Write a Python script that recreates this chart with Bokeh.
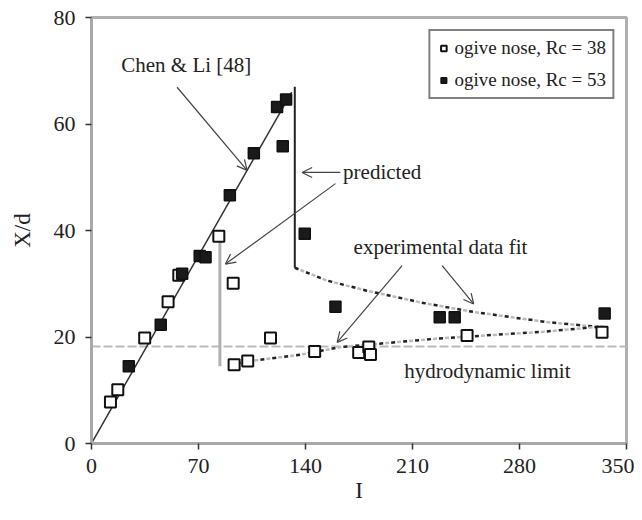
from bokeh.plotting import figure
from bokeh.models import Label, Arrow, OpenHead, FixedTicker, Legend, LegendItem, Range1d
from bokeh.embed import file_html
from bokeh.resources import INLINE

# Data: ogive nose, Rc = 38 (open squares)
rc38_x = [12.4, 17.2, 34.8, 50.1, 57.1, 83.3, 92.7, 93.3, 102.2, 117.1, 146.0, 174.8, 181.4, 182.5, 245.7, 334.0]
rc38_y = [7.8, 10.1, 19.8, 26.6, 31.6, 38.9, 30.1, 14.8, 15.5, 19.8, 17.3, 17.1, 18.1, 16.7, 20.3, 20.9]

# Data: ogive nose, Rc = 53 (filled squares)
rc53_x = [24.4, 45.3, 59.3, 70.8, 74.6, 90.5, 106.2, 121.4, 127.3, 125.1, 139.5, 159.6, 227.8, 237.6, 335.7]
rc53_y = [14.5, 22.3, 31.9, 35.2, 35.0, 46.6, 54.5, 63.2, 64.6, 55.8, 39.4, 25.7, 23.7, 23.7, 24.4]

# Chen & Li [48] line
chen_x = [0, 131]
chen_y = [0, 66]

# predicted (vertical segments)
pred53_x = [133, 133]
pred53_y = [33, 67]
pred38_x = [84, 84]
pred38_y = [14.5, 38]

# experimental data fits
fit53_x = [133, 154, 180, 217, 250, 298, 335]
fit53_y = [33, 30.6, 28.7, 26.4, 24.7, 22.8, 21.8]
fit38_x = [95, 104, 137, 163, 226, 296, 335]
fit38_y = [15.0, 15.5, 16.7, 18.1, 19.7, 21.0, 22.0]

# hydrodynamic limit
hydro_y = 18.2

x_ticks = [0, 70, 140, 210, 280, 350]
y_ticks = [0, 20, 40, 60, 80]

FONT = "Liberation Serif"

p = figure(width=634, height=512, output_backend="svg", toolbar_location=None,
           x_range=Range1d(0, 350), y_range=Range1d(0, 80),
           min_border_left=91, min_border_right=8, min_border_top=17, min_border_bottom=69)
p.grid.visible = False
p.background_fill_color = "white"
p.outline_line_color = "#b0b0b0"
p.outline_line_width = 3

for ax in (p.xaxis[0], p.yaxis[0]):
    ax.axis_line_color = "#a8a8a8"
    ax.axis_line_width = 3
    ax.major_tick_line_color = "#333333"
    ax.major_tick_line_width = 1.5
    ax.major_tick_out = 6
    ax.major_tick_in = 0
    ax.minor_tick_line_color = None
    ax.major_label_text_font = FONT
    ax.major_label_text_font_size = "22px"
    ax.major_label_text_color = "#222222"
    ax.axis_label_text_font = FONT
    ax.axis_label_text_font_size = "23px"
    ax.axis_label_text_font_style = "normal"
    ax.axis_label_text_color = "#222222"

p.xaxis.ticker = FixedTicker(ticks=x_ticks)
p.yaxis.ticker = FixedTicker(ticks=y_ticks)
p.xaxis.axis_label = "I"
p.yaxis.axis_label = "X/d"
p.xaxis.major_label_standoff = 9
p.yaxis.major_label_standoff = 10
p.xaxis.axis_label_standoff = 2
p.yaxis.axis_label_standoff = 16

# hydrodynamic limit
p.line([0, 350], [hydro_y, hydro_y], line_color="#bbbbbb", line_width=2, line_dash="9 3")

# Chen & Li line
p.line(chen_x, chen_y, line_color="#333333", line_width=1.5)

# predicted lines
p.line(pred38_x, pred38_y, line_color="#b0b0b0", line_width=3)
p.line(pred53_x, pred53_y, line_color="#222222", line_width=2)

# experimental fits: alternating dark / light dashes
for fx, fy in ((fit53_x, fit53_y), (fit38_x, fit38_y)):
    p.line(fx, fy, line_color="#bbbbbb", line_width=2.5, line_dash="4 8", line_dash_offset=6)
    p.line(fx, fy, line_color="#222222", line_width=2.5, line_dash="4 8")

r38 = p.scatter(rc38_x, rc38_y, marker="square", size=11, fill_color="white",
                line_color="#111111", line_width=2)
r53 = p.scatter(rc53_x, rc53_y, marker="square", size=11, fill_color="#1a1a1a",
                line_color="#111111", line_width=1.5)

legend = Legend(items=[LegendItem(label="ogive nose, Rc = 38", renderers=[r38]),
                       LegendItem(label="ogive nose, Rc = 53", renderers=[r53])],
                location="top_right")
legend.label_text_font = FONT
legend.label_text_font_size = "19px"
legend.label_text_color = "#222222"
legend.border_line_color = "black"
legend.border_line_width = 2
legend.margin = 12
legend.padding = 6
legend.spacing = 10
legend.glyph_width = 14
legend.label_standoff = 4
legend.background_fill_alpha = 1
p.add_layout(legend)

# annotations
def lab(x, y, t, align="center"):
    p.add_layout(Label(x=x, y=y, text=t, text_font=FONT, text_font_size="21px",
                       text_color="#222222", text_align=align, text_baseline="middle"))

lab(62, 71, "Chen & Li [48]")
lab(164.6, 50.9, "predicted", "left")
lab(228.3, 36.9, "experimental data fit")
lab(259, 13.7, "hydrodynamic limit")

def arr(x0, y0, x1, y1):
    p.add_layout(Arrow(end=OpenHead(size=10, line_color="#444444", line_width=1.2),
                       x_start=x0, y_start=y0, x_end=x1, y_end=y1,
                       line_color="#444444", line_width=1.2))

arr(56, 66.9, 101.8, 51.3)
arr(162.8, 50.9, 137.8, 50.9)
arr(159.6, 48.8, 87.6, 33.7)
arr(203.2, 33.4, 160.7, 19.0)
arr(229.4, 33.4, 250.0, 26.2)

open("out.html", "w").write(file_html(p, INLINE))
